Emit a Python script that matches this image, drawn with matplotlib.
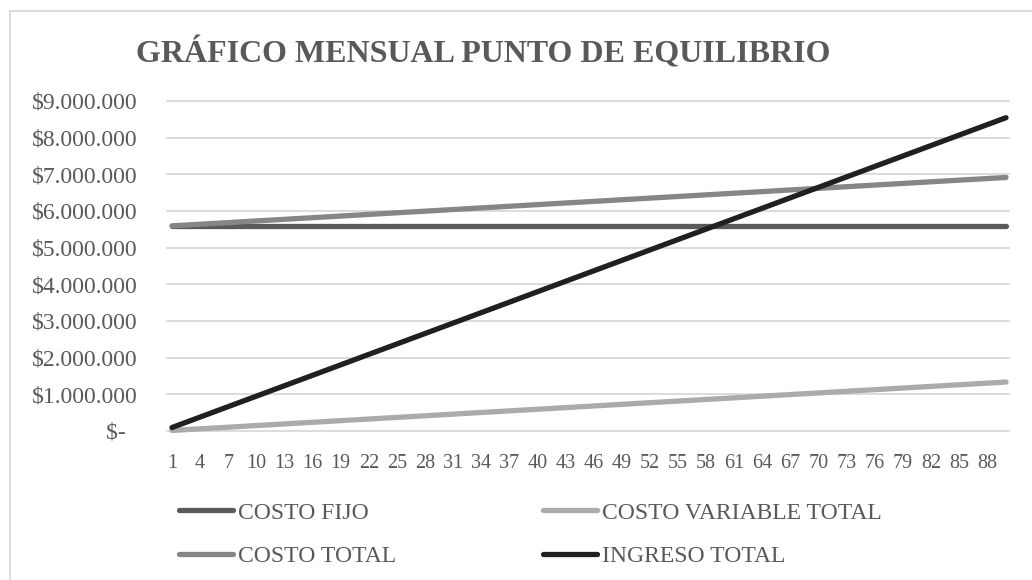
import matplotlib
matplotlib.use("Agg")
import matplotlib.pyplot as plt
from matplotlib.lines import Line2D
from matplotlib.ticker import FuncFormatter

plt.rcParams['font.family'] = ['Liberation Serif', 'DejaVu Serif']

# datos (rectas: extremos en la unidad 1 y 90)
unidades = [1, 90]
costo_fijo = [5580000, 5580000]
costo_variable = [15000, 1335000]
costo_total = [5595000, 6915000]
ingreso_total = [95000, 8545000]

x_ticks = list(range(1, 89, 3))
y_ticks = [0, 1e6, 2e6, 3e6, 4e6, 5e6, 6e6, 7e6, 8e6, 9e6]

series = [("COSTO FIJO", costo_fijo, "#5a5a5a"),
          ("COSTO VARIABLE TOTAL", costo_variable, "#ababab"),
          ("COSTO TOTAL", costo_total, "#868686"),
          ("INGRESO TOTAL", ingreso_total, "#202020")]

W, H = 1032, 580
fig = plt.figure(figsize=(W / 100, H / 100), dpi=100)
ax = fig.add_axes([167 / W, 1 - 431 / H, (1009 - 167) / W, (431 - 101) / H])

for y in y_ticks:
    ax.axhline(y, color="#d9d9d9", lw=1.3, zorder=1, clip_on=False)

handles = {}
for name, vals, col in series:
    ln, = ax.plot(unidades, vals, color=col, lw=3.8, solid_capstyle="round",
                  zorder=3, clip_on=False, label=name)
    handles[name] = ln

ax.set_xlim(0.47, 90.32)
ax.set_ylim(0, 9e6)
ax.set_xticks(x_ticks)
ax.set_xticklabels([str(t) for t in x_ticks])
ax.set_yticks(y_ticks)


def money(v, pos):
    if v == 0:
        return "$-  "
    return "$" + format(int(v), ",").replace(",", ".")


ax.yaxis.set_major_formatter(FuncFormatter(money))
ax.tick_params(axis="both", length=0, colors="#595959")
ax.tick_params(axis="y", labelsize=17, pad=21)
ax.tick_params(axis="x", labelsize=14.5, pad=16.5)
for s in ax.spines.values():
    s.set_visible(False)

fig.text(483 / W, 1 - 53 / H, "GRÁFICO MENSUAL PUNTO DE EQUILIBRIO",
         ha="center", va="center", fontsize=23, fontweight="bold", color="#595959")

order = ["COSTO FIJO", "COSTO TOTAL", "COSTO VARIABLE TOTAL", "INGRESO TOTAL"]
leg = fig.legend([handles[n] for n in order], order, ncol=2, loc="upper left",
                 bbox_to_anchor=(179 / W, 1 - 502 / H), frameon=False,
                 fontsize=17, handlelength=2.3, handletextpad=0.2,
                 columnspacing=6.2, labelspacing=0.95, borderpad=0, borderaxespad=0)
for t in leg.get_texts():
    t.set_color("#595959")

# borde del area del grafico
fig.add_artist(Line2D([10 / W, 10 / W], [0, 1 - 11 / H], color="#d9d9d9", lw=1.3))
fig.add_artist(Line2D([10 / W, 1], [1 - 11 / H, 1 - 11 / H], color="#d9d9d9", lw=1.3))

fig.savefig("out.png", dpi=100)
